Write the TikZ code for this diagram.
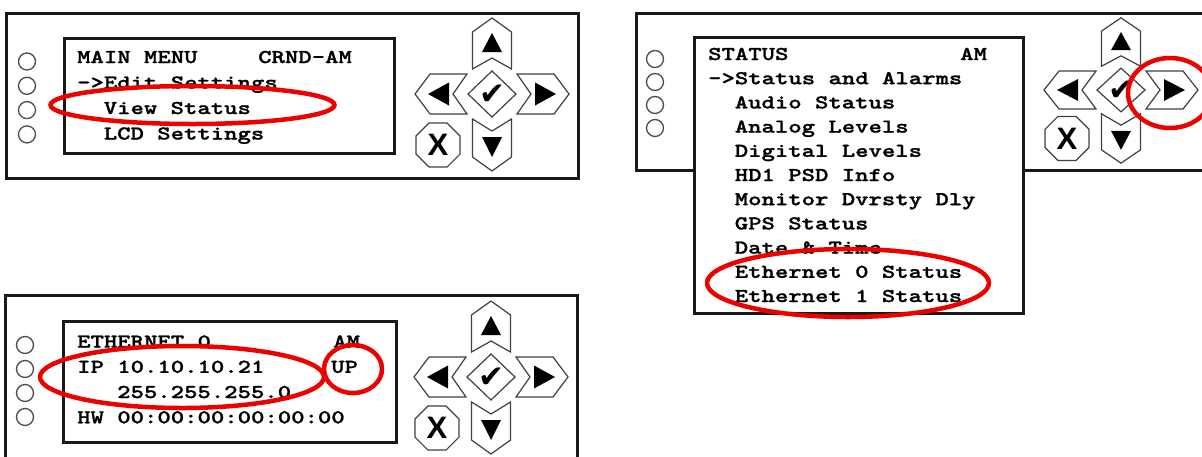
\documentclass[tikz,border=0pt]{standalone}
\usepackage{fontspec}
\usetikzlibrary{shapes.geometric}
\newfontfamily\lcdFont{lmmonolt10-bold.otf}[FakeStretch=1.3,BoldFont=lmmonolt10-bold.otf,BoldFeatures={FakeBold=1.2}]
\newfontfamily\keyFont{Liberation Sans}
\newfontfamily\tickFont{DejaVu Sans}
\definecolor{markRed}{RGB}{236,0,0}
\newcommand{\ledSize}{17pt}
\newcommand{\lcdSize}{\fontsize{19.6}{24}\selectfont}
% keypad: name, centre x, centre y, yscale
\newcommand{\drawKeypad}[4]{%
\begin{scope}[shift={(#2,#3)},yscale=#4]
\draw[keyButton] (0,-76) -- (19.5,-62) -- (19.5,-25) -- (0,-36) -- (-19.5,-25) -- (-19.5,-62) -- cycle;
\fill (0,-61) -- (10,-42) -- (-10,-42) -- cycle;
\draw[keyButton] (0,77) -- (19.5,63) -- (19.5,25) -- (0,37) -- (-19.5,25) -- (-19.5,63) -- cycle;
\fill (0,63) -- (10,43) -- (-10,43) -- cycle;
\draw[keyButton] (-77,0) -- (-62,-20) -- (-25,-20) -- (-39,0) -- (-25,20) -- (-62,20) -- cycle;
\fill (-64,0) -- (-43,-11.5) -- (-43,11.5) -- cycle;
\draw[keyButton] (77,0) -- (62,-20) -- (25,-20) -- (39,0) -- (25,20) -- (62,20) -- cycle;
\fill (64,0) -- (43,-11.5) -- (43,11.5) -- cycle;
\draw[keyButton] (-24,0) -- (0,-23) -- (24,0) -- (0,23) -- cycle;
\node[inner sep=0pt] (#1-ok) at (0,1) {\tickFont\fontsize{31}{31}\selectfont ✔};
\node[keyButton,regular polygon,regular polygon sides=8,minimum size=47.6pt,inner sep=0pt] (#1-cancel) at (-54,51) {\keyFont\bfseries\fontsize{31}{31}\selectfont X};
\end{scope}}

\begin{document}
\begin{tikzpicture}[x=1pt,y=-1pt]
\tikzstyle{panel}=[draw=black!90,line width=3pt,fill=white]
\tikzstyle{lcd}=[draw=black!90,line width=3pt,fill=white]
\tikzstyle{led}=[circle,draw=black!70,line width=1.3pt,minimum size=\ledSize,inner sep=0pt]
\tikzstyle{lcdText}=[anchor=base west,inner sep=0pt,font=\lcdFont\bfseries\lcdSize]
\tikzstyle{keyButton}=[draw=black!75,line width=1.2pt,fill=white,line join=miter]
\tikzstyle{highlight}=[draw=markRed,line width=4.5pt]
\useasboundingbox (0,0) rectangle (1202,456);
\clip (0,0) rectangle (1202,456);

% main menu panel
\draw[panel] (6,13) rectangle (578,178);
\draw[lcd] (64,38) rectangle (394,153);
\node[led] (led-1-0) at (27,61.5) {};
\node[led] (led-1-1) at (27,85.8) {};
\node[led] (led-1-2) at (27,110.1) {};
\node[led] (led-1-3) at (27,134.4) {};
\node[lcdText] (t-1-0) at (77,63) {MAIN MENU};
\node[lcdText] (t-1-0r) at (258,63) {CRND-AM};
\node[lcdText] (t-1-1) at (77,88.5) {->Edit Settings};
\node[lcdText] (t-1-2) at (103.6,114) {View Status};
\node[lcdText] (t-1-3) at (103.6,139.5) {LCD Settings};
\drawKeypad{pad-1}{492}{94}{1}

% status panel
\draw[panel] (636,13) rectangle (1215,170);
\draw[lcd] (694,37) rectangle (1023,313);
\node[led] (led-2-0) at (655,59) {};
\node[led] (led-2-1) at (655,82) {};
\node[led] (led-2-2) at (655,105) {};
\node[led] (led-2-3) at (655,128) {};
\node[lcdText] (t-2-0) at (708,60) {STATUS};
\node[lcdText] (t-2-0r) at (960,60) {AM};
\node[lcdText] (t-2-1) at (708,84.2) {->Status and Alarms};
\node[lcdText] (t-2-2) at (734.6,108.4) {Audio Status};
\node[lcdText] (t-2-3) at (734.6,132.6) {Analog Levels};
\node[lcdText] (t-2-4) at (734.6,156.8) {Digital Levels};
\node[lcdText] (t-2-5) at (734.6,181) {HD1 PSD Info};
\node[lcdText] (t-2-6) at (734.6,205.2) {Monitor Dvrsty Dly};
\node[lcdText] (t-2-7) at (734.6,229.4) {GPS Status};
\node[lcdText] (t-2-8) at (734.6,253.6) {Date \& Time};
\node[lcdText] (t-2-9) at (734.6,277.8) {Ethernet 0 Status};
\node[lcdText] (t-2-10) at (734.6,302) {Ethernet 1 Status};
\drawKeypad{pad-2}{1121}{90}{0.95}

% ethernet panel
\draw[panel] (5,295) rectangle (577,475);
\draw[lcd] (63,321) rectangle (396,442);
\node[led] (led-3-0) at (25,345) {};
\node[led] (led-3-1) at (25,369) {};
\node[led] (led-3-2) at (25,393) {};
\node[led] (led-3-3) at (25,417) {};
\node[lcdText] (t-3-0) at (77,347.5) {ETHERNET 0};
\node[lcdText] (t-3-0r) at (333,347.5) {AM};
\node[lcdText] (t-3-1) at (77,372.8) {IP 10.10.10.21};
\node[lcdText] (t-3-1r) at (331,372.8) {UP};
\node[lcdText] (t-3-2) at (117,398) {255.255.255.0};
\node[lcdText] (t-3-3) at (77,423.3) {HW 00:00:00:00:00:00};
\drawKeypad{pad-3}{491}{377}{1}

% red marks
\draw[highlight] (192.5,105) ellipse [x radius=142,y radius=19];
\draw[highlight] (848,283) ellipse [x radius=141,y radius=34];
\draw[highlight] (1170,93) ellipse [x radius=42,y radius=35];
\draw[highlight] (182,377) ellipse [x radius=142,y radius=31];
\draw[highlight] (353,369) ellipse [x radius=29,y radius=24];
\end{tikzpicture}
\end{document}
